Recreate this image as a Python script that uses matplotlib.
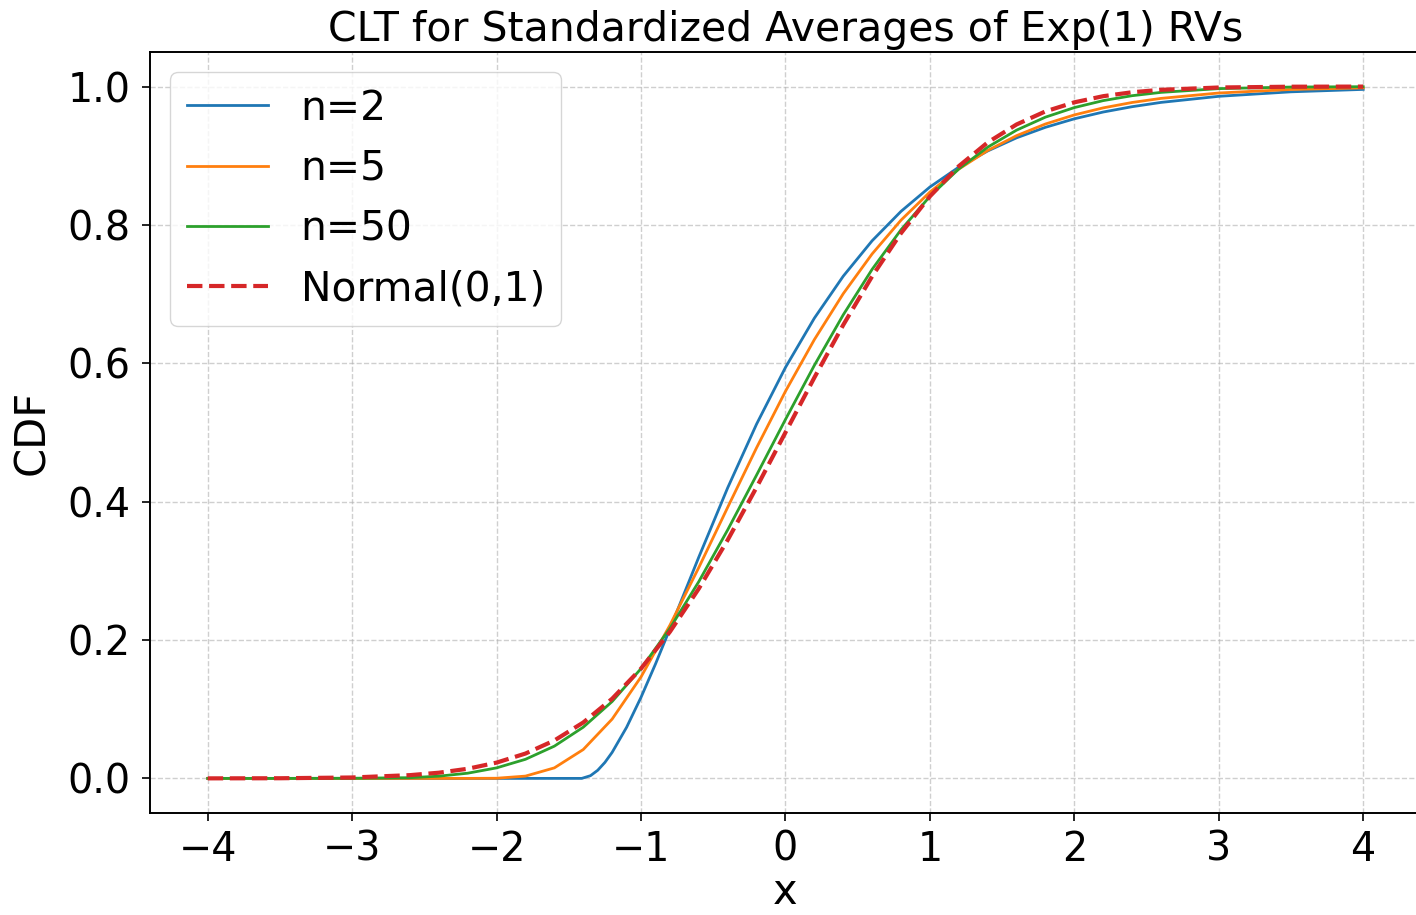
import matplotlib
matplotlib.use("Agg")
import matplotlib.pyplot as plt

# Evaluation grid (x) shared by n=5, n=50 and the normal reference
x_grid = [-4.0, -3.5, -3.0, -2.6, -2.4, -2.2, -2.0, -1.8, -1.6, -1.4, -1.2,
          -1.0, -0.8, -0.6, -0.4, -0.2, 0.0, 0.2, 0.4, 0.6, 0.8, 1.0,
          1.2, 1.4, 1.6, 1.8, 2.0, 2.2, 2.4, 2.6, 3.0, 3.5, 4.0]

# n=2 has a hard lower edge, so it gets a denser grid near the kink
x_n2 = [-4.0, -1.41, -1.35, -1.3, -1.25, -1.2, -1.1, -1.0, -0.9, -0.8,
        -0.6, -0.4, -0.2, 0.0, 0.2, 0.4, 0.6, 0.8, 1.0, 1.2, 1.4, 1.6,
        1.8, 2.0, 2.2, 2.4, 2.6, 3.0, 3.5, 4.0]
cdf_n2 = [0.0, 0.0, 0.0039, 0.0117, 0.0231, 0.0376, 0.0738, 0.1172, 0.1653,
          0.2161, 0.3198, 0.4200, 0.5121, 0.5940, 0.6652, 0.7259, 0.7771,
          0.8196, 0.8548, 0.8835, 0.9069, 0.9259, 0.9411, 0.9534, 0.9632,
          0.9709, 0.9771, 0.9859, 0.9924, 0.9959]

cdf_n5 = [0.0, 0.0, 0.0, 0.0, 0.0, 0.0, 0.0002, 0.0033, 0.0152, 0.0417,
          0.0857, 0.1467, 0.2214, 0.3048, 0.3918, 0.4779, 0.5595, 0.6342,
          0.7006, 0.7581, 0.8069, 0.8475, 0.8807, 0.9076, 0.9290, 0.9459,
          0.9590, 0.9692, 0.9770, 0.9829, 0.9907, 0.9958, 0.9981]

cdf_n50 = [0.0, 0.0, 0.0002, 0.0010, 0.0032, 0.0075, 0.0152, 0.0276, 0.0466,
           0.0740, 0.1111, 0.1587, 0.2168, 0.2844, 0.3592, 0.4384, 0.5188,
           0.5970, 0.6700, 0.7358, 0.7930, 0.8413, 0.8809, 0.9124, 0.9370,
           0.9558, 0.9696, 0.9797, 0.9868, 0.9916, 0.9970, 0.9993, 0.9998]

cdf_normal = [0.00003, 0.0002, 0.0013, 0.0047, 0.0082, 0.0139, 0.0228,
              0.0359, 0.0548, 0.0808, 0.1151, 0.1587, 0.2119, 0.2743, 0.3446,
              0.4207, 0.5, 0.5793, 0.6554, 0.7257, 0.7881, 0.8413, 0.8849,
              0.9192, 0.9452, 0.9641, 0.9772, 0.9861, 0.9918, 0.9953, 0.99865,
              0.9998, 0.99997]

labels = ["n=2", "n=5", "n=50", "Normal(0,1)"]

fig = plt.figure(figsize=(14.16, 9.15), dpi=100)
ax = fig.add_axes([0.1059, 0.1115, 0.8976, 0.8317])

ax.plot(x_n2, cdf_n2, color="#1f77b4", lw=2.0, label=labels[0])
ax.plot(x_grid, cdf_n5, color="#ff7f0e", lw=2.0, label=labels[1])
ax.plot(x_grid, cdf_n50, color="#2ca02c", lw=2.0, label=labels[2])
ax.plot(x_grid, cdf_normal, color="#d62728", lw=3.0, ls="--", label=labels[3])

ax.set_xlim(-4.4, 4.4)
ax.set_ylim(-0.05, 1.05)
ax.set_xticks([-4, -3, -2, -1, 0, 1, 2, 3, 4])
ax.set_yticks([0.0, 0.2, 0.4, 0.6, 0.8, 1.0])
ax.tick_params(labelsize=28.5, length=6, width=1.2)
ax.tick_params(axis="y", pad=8)
ax.tick_params(axis="x", pad=6)
for sp in ax.spines.values():
    sp.set_linewidth(1.4)

ax.grid(True, linestyle="--", alpha=0.6, lw=1.0)
ax.set_title("CLT for Standardized Averages of Exp(1) RVs", fontsize=29.5, pad=8)
ax.set_xlabel("x", fontsize=30, labelpad=1)
ax.set_ylabel("CDF", fontsize=30, labelpad=10)
ax.legend(fontsize=29.3, loc="upper left")

fig.savefig("out.png", dpi=100)
